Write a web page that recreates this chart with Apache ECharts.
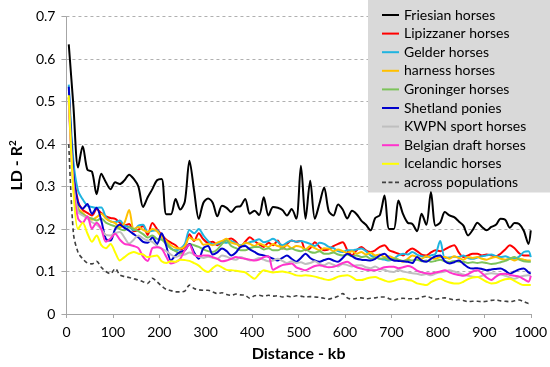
<!DOCTYPE html>
<html>
<head>
<meta charset="utf-8">
<script src="https://cdn.jsdelivr.net/npm/echarts@6/dist/echarts.min.js"></script>
<style>html,body{margin:0;padding:0;background:#fff}#c{width:550px;height:367px}</style>
</head>
<body>
<div id="c"></div>
<script>
const distanceKb = [5,15,25,35,45,55,65,75,85,95,105,115,125,135,145,155,165,175,185,195,205,215,225,235,245,255,265,275,285,295,305,315,325,335,345,355,365,375,385,395,405,415,425,435,445,455,465,475,485,495,505,515,525,535,545,555,565,575,585,595,605,615,625,635,645,655,665,675,685,695,705,715,725,735,745,755,765,775,785,795,805,815,825,835,845,855,865,875,885,895,905,915,925,935,945,955,965,975,985,995,1000];

const friesian = [0.635,0.49,0.345,0.395,0.34,0.335,0.282,0.33,0.31,0.294,
0.31,0.306,0.315,0.328,0.318,0.3,0.252,0.275,0.294,0.315,
0.318,0.235,0.235,0.271,0.246,0.265,0.361,0.29,0.224,0.262,
0.272,0.262,0.23,0.255,0.25,0.24,0.252,0.254,0.271,0.236,
0.243,0.233,0.275,0.232,0.252,0.25,0.245,0.232,0.247,0.224,
0.349,0.224,0.314,0.224,0.26,0.298,0.242,0.232,0.258,0.246,
0.225,0.243,0.235,0.22,0.21,0.197,0.226,0.233,0.279,0.2,
0.2,0.267,0.235,0.215,0.212,0.195,0.236,0.21,0.287,0.208,
0.215,0.24,0.232,0.228,0.218,0.208,0.185,0.198,0.215,0.205,
0.197,0.205,0.21,0.224,0.222,0.203,0.214,0.212,0.196,0.165,0.197];

const lipizzaner = [0.51,0.34,0.265,0.245,0.238,0.232,0.247,0.238,0.23,0.226,
0.224,0.215,0.208,0.212,0.195,0.198,0.208,0.186,0.214,0.2,
0.186,0.175,0.168,0.162,0.152,0.158,0.188,0.172,0.19,0.176,
0.168,0.17,0.162,0.17,0.174,0.178,0.17,0.158,0.17,0.181,
0.172,0.164,0.158,0.168,0.162,0.173,0.154,0.165,0.173,0.17,
0.172,0.15,0.155,0.169,0.158,0.15,0.152,0.16,0.165,0.169,
0.15,0.138,0.15,0.158,0.15,0.146,0.15,0.158,0.162,0.15,
0.146,0.142,0.138,0.148,0.154,0.148,0.14,0.138,0.145,0.15,
0.148,0.152,0.158,0.162,0.145,0.134,0.138,0.142,0.142,0.138,
0.14,0.138,0.136,0.142,0.152,0.162,0.155,0.143,0.138,0.138,0.138];

const gelder = [0.54,0.36,0.29,0.27,0.255,0.252,0.25,0.251,0.228,0.218,
0.216,0.22,0.208,0.205,0.197,0.208,0.21,0.193,0.196,0.197,
0.18,0.168,0.155,0.15,0.154,0.165,0.198,0.19,0.2,0.185,
0.172,0.164,0.165,0.169,0.168,0.172,0.166,0.162,0.166,0.169,
0.172,0.176,0.169,0.172,0.177,0.17,0.162,0.168,0.173,0.17,
0.172,0.169,0.165,0.16,0.168,0.165,0.158,0.155,0.148,0.146,
0.15,0.15,0.152,0.154,0.148,0.138,0.134,0.13,0.128,0.126,
0.13,0.138,0.142,0.14,0.146,0.14,0.136,0.134,0.138,0.142,
0.172,0.132,0.133,0.135,0.134,0.138,0.132,0.13,0.133,0.136,
0.138,0.14,0.136,0.134,0.136,0.132,0.13,0.135,0.146,0.148,0.134];

const harness = [0.51,0.32,0.25,0.238,0.228,0.222,0.228,0.236,0.225,0.218,
0.214,0.204,0.215,0.245,0.2,0.205,0.198,0.193,0.2,0.195,
0.181,0.172,0.162,0.156,0.154,0.16,0.18,0.174,0.176,0.163,
0.165,0.162,0.168,0.172,0.177,0.168,0.165,0.16,0.168,0.165,
0.16,0.166,0.162,0.158,0.165,0.16,0.158,0.162,0.155,0.16,
0.158,0.152,0.16,0.155,0.15,0.155,0.154,0.148,0.152,0.148,
0.144,0.148,0.142,0.146,0.14,0.144,0.138,0.14,0.134,0.136,
0.132,0.128,0.123,0.13,0.138,0.134,0.13,0.136,0.132,0.13,
0.134,0.134,0.13,0.136,0.132,0.128,0.134,0.132,0.134,0.13,
0.128,0.132,0.134,0.13,0.128,0.13,0.126,0.13,0.128,0.126,0.126];

const groninger = [0.51,0.32,0.245,0.235,0.228,0.225,0.22,0.225,0.215,0.21,
0.206,0.2,0.197,0.204,0.2,0.195,0.188,0.18,0.185,0.177,
0.175,0.165,0.154,0.148,0.142,0.15,0.165,0.162,0.158,0.152,
0.148,0.146,0.152,0.165,0.173,0.16,0.155,0.15,0.15,0.155,
0.158,0.158,0.152,0.155,0.15,0.15,0.155,0.152,0.154,0.15,
0.148,0.152,0.146,0.144,0.148,0.142,0.142,0.145,0.14,0.138,
0.14,0.136,0.138,0.134,0.136,0.13,0.133,0.13,0.132,0.128,
0.13,0.128,0.125,0.127,0.126,0.128,0.124,0.126,0.123,0.125,
0.128,0.124,0.122,0.125,0.123,0.123,0.12,0.122,0.12,0.122,
0.12,0.118,0.119,0.122,0.125,0.13,0.134,0.128,0.124,0.123,0.123];

const shetland = [0.535,0.33,0.262,0.248,0.259,0.236,0.25,0.22,0.177,0.173,
0.2,0.21,0.203,0.196,0.188,0.18,0.17,0.168,0.18,0.165,
0.19,0.16,0.126,0.138,0.146,0.15,0.165,0.145,0.13,0.155,
0.16,0.14,0.145,0.154,0.148,0.138,0.145,0.158,0.16,0.152,
0.146,0.14,0.138,0.135,0.13,0.126,0.132,0.138,0.13,0.123,
0.132,0.142,0.132,0.126,0.123,0.127,0.13,0.126,0.123,0.132,
0.142,0.136,0.13,0.128,0.127,0.126,0.13,0.138,0.142,0.132,
0.126,0.125,0.124,0.123,0.12,0.134,0.126,0.123,0.13,0.136,
0.138,0.124,0.119,0.122,0.126,0.118,0.11,0.107,0.108,0.106,
0.103,0.105,0.106,0.107,0.102,0.095,0.1,0.105,0.107,0.098,0.095];

const kwpn = [0.5,0.31,0.24,0.232,0.225,0.216,0.21,0.2,0.186,0.185,
0.19,0.193,0.18,0.166,0.175,0.185,0.178,0.173,0.17,0.16,
0.154,0.148,0.14,0.134,0.138,0.14,0.145,0.14,0.135,0.132,
0.135,0.132,0.13,0.138,0.135,0.13,0.128,0.134,0.13,0.126,
0.128,0.132,0.128,0.124,0.126,0.13,0.125,0.12,0.124,0.12,
0.122,0.118,0.12,0.124,0.118,0.115,0.12,0.116,0.112,0.118,
0.115,0.112,0.115,0.115,0.11,0.108,0.112,0.106,0.104,0.1,
0.099,0.104,0.1,0.098,0.096,0.095,0.092,0.094,0.091,0.095,
0.098,0.1,0.103,0.1,0.096,0.093,0.09,0.088,0.087,0.09,
0.094,0.096,0.095,0.093,0.09,0.086,0.083,0.087,0.09,0.091,0.091];

const belgian = [0.5,0.3,0.225,0.215,0.23,0.201,0.215,0.2,0.17,0.178,
0.189,0.175,0.165,0.163,0.16,0.155,0.135,0.125,0.155,0.157,
0.154,0.135,0.119,0.122,0.13,0.15,0.163,0.14,0.136,0.138,
0.138,0.134,0.13,0.124,0.126,0.13,0.134,0.132,0.13,0.128,
0.126,0.128,0.134,0.136,0.104,0.11,0.115,0.117,0.119,0.11,
0.106,0.103,0.108,0.113,0.115,0.112,0.11,0.111,0.115,0.12,
0.123,0.116,0.11,0.107,0.104,0.103,0.103,0.106,0.11,0.111,
0.111,0.108,0.11,0.113,0.11,0.102,0.098,0.096,0.095,0.098,
0.1,0.103,0.098,0.094,0.092,0.09,0.094,0.1,0.103,0.096,
0.086,0.08,0.088,0.094,0.095,0.092,0.09,0.088,0.082,0.076,0.09];

const icelandic = [0.515,0.29,0.2,0.215,0.19,0.17,0.185,0.162,0.155,0.165,
0.145,0.126,0.134,0.142,0.146,0.142,0.14,0.134,0.136,0.138,
0.124,0.12,0.124,0.123,0.128,0.127,0.125,0.12,0.114,0.104,
0.099,0.108,0.115,0.11,0.104,0.103,0.102,0.1,0.098,0.09,
0.083,0.094,0.103,0.1,0.098,0.099,0.1,0.098,0.095,0.091,
0.09,0.091,0.09,0.088,0.085,0.082,0.08,0.083,0.088,0.09,
0.091,0.087,0.08,0.08,0.083,0.086,0.087,0.083,0.079,0.076,
0.078,0.082,0.083,0.08,0.078,0.072,0.07,0.068,0.075,0.08,
0.083,0.078,0.074,0.072,0.072,0.076,0.082,0.086,0.087,0.082,
0.076,0.072,0.073,0.078,0.082,0.083,0.078,0.072,0.068,0.068,0.068];

const acrossPopulations = [0.40,0.19,0.145,0.13,0.12,0.118,0.124,0.11,0.1,0.095,
0.107,0.092,0.088,0.086,0.083,0.08,0.076,0.072,0.084,0.076,
0.066,0.058,0.055,0.052,0.052,0.054,0.068,0.06,0.057,0.056,
0.056,0.052,0.048,0.05,0.046,0.044,0.047,0.045,0.044,0.037,
0.043,0.044,0.042,0.044,0.042,0.043,0.04,0.042,0.04,0.043,
0.042,0.04,0.041,0.04,0.039,0.037,0.035,0.038,0.042,0.048,
0.038,0.035,0.037,0.038,0.036,0.037,0.038,0.04,0.04,0.036,
0.033,0.036,0.037,0.036,0.036,0.036,0.04,0.042,0.038,0.035,
0.037,0.038,0.036,0.033,0.034,0.032,0.029,0.03,0.03,0.029,
0.03,0.032,0.033,0.031,0.03,0.029,0.031,0.033,0.029,0.025,0.028];

const seriesNames = ['Friesian horses','Lipizzaner horses','Gelder horses','harness horses','Groninger horses','Shetland ponies','KWPN sport horses','Belgian draft horses','Icelandic horses','across populations'];
const seriesValues = [friesian, lipizzaner, gelder, harness, groninger, shetland, kwpn, belgian, icelandic, acrossPopulations];
const seriesColors = ['#000000','#ff0000','#1fb4e0','#ffc000','#7cc35a','#0000cc','#bfbfbf','#ff33cc','#ffff00','#404040'];
const yTicks = [0,0.1,0.2,0.3,0.4,0.5,0.6,0.7];
const xTicks = [0,100,200,300,400,500,600,700,800,900,1000];

const FONT = 'Lato';
const SOLID_ICON = 'path://M0,0M0,14M0,6H17V8H0Z';
const DASH_ICON = 'path://M0,0M0,14M0,6.2h4v1.6h-4zM6.5,6.2h4v1.6h-4zM13,6.2h4v1.6h-4z';

const chart = echarts.init(document.getElementById('c'), null, {renderer:'canvas'});

const series = seriesNames.map((name, k) => ({
  name: name,
  type: 'line',
  data: distanceKb.map((x, i) => [x, seriesValues[k][i]]),
  smooth: 0.3,
  symbol: 'none',
  z: k === 0 ? 5 : (k === 9 ? 4 : 3),
  lineStyle: {
    color: seriesColors[k],
    width: k === 9 ? 1.6 : 2,
    type: k === 9 ? [4, 3] : 'solid'
  },
  itemStyle: { color: seriesColors[k] }
}));

chart.setOption({
  animation: false,
  backgroundColor: '#ffffff',
  grid: { left: 55.5, right: 19, top: 16.7, bottom: 51.3, containLabel: false },
  legend: {
    orient: 'vertical',
    left: 368,
    top: 0,
    data: seriesNames.map((n, k) => ({ name: n, icon: k === 9 ? DASH_ICON : SOLID_ICON })),
    backgroundColor: '#d9d9d9',
    padding: [8, 40, 3, 14],
    itemWidth: 17,
    itemHeight: 14,
    itemGap: 4.6,
    itemStyle: { borderWidth: 0 },
    textStyle: { fontFamily: FONT, fontSize: 14, color: '#000' }
  },
  xAxis: {
    type: 'value',
    min: xTicks[0],
    max: xTicks[xTicks.length - 1],
    interval: 100,
    name: 'Distance - kb',
    nameLocation: 'middle',
    nameGap: 32,
    nameTextStyle: { fontFamily: FONT, fontSize: 16, fontWeight: 'bold', color: '#000' },
    axisLine: { show: true, lineStyle: { color: '#a6a6a6', width: 1 } },
    axisTick: { show: true, length: 4, lineStyle: { color: '#a6a6a6' } },
    axisLabel: { fontFamily: FONT, fontSize: 14, color: '#000', margin: 11, formatter: v => String(v) },
    splitLine: { show: false }
  },
  yAxis: {
    type: 'value',
    min: yTicks[0],
    max: yTicks[yTicks.length - 1],
    interval: 0.1,
    name: 'LD - R{sup|2}',
    nameLocation: 'middle',
    nameGap: 30,
    nameRotate: 90,
    nameTextStyle: {
      fontFamily: FONT, fontSize: 16, fontWeight: 'bold', color: '#000',
      rich: { sup: { fontFamily: FONT, fontSize: 10, fontWeight: 'bold', color: '#000', verticalAlign: 'top', padding: [0,0,8,0] } }
    },
    axisLine: { show: true, lineStyle: { color: '#a6a6a6', width: 1 } },
    axisTick: { show: true, length: 5, lineStyle: { color: '#a6a6a6' } },
    axisLabel: { fontFamily: FONT, fontSize: 14, color: '#000', margin: 11 },
    splitLine: { show: true, lineStyle: { color: '#b0b0b0', type: [3, 3], width: 1 } }
  },
  series: series
});
</script>
</body>
</html>
